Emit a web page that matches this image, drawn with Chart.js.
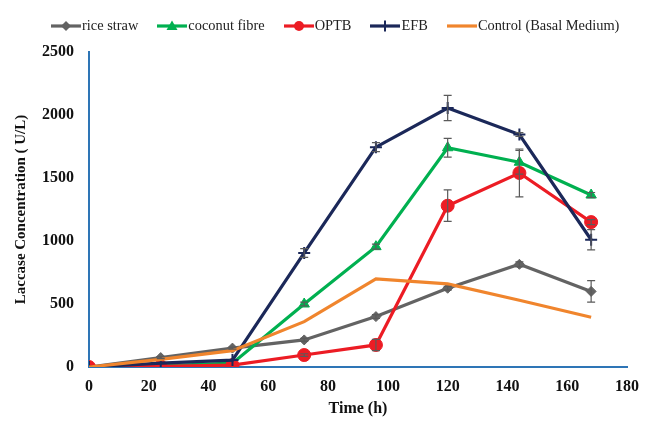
<!DOCTYPE html>
<html>
<head>
<meta charset="utf-8">
<script src="https://cdn.jsdelivr.net/npm/chart.js@4.4.1/dist/chart.umd.min.js"></script>
<style>
  body { margin: 0; background: #fff; }
  #wrap { position: relative; width: 649px; height: 422px; }
  #legend { position: absolute; left: 51px; top: 17px; display: flex; align-items: center;
            font-family: "Liberation Serif", "Times New Roman", serif; font-size: 14.4px; color: #222; }
  #legend .item { display: flex; align-items: center; margin-right: 19px; }
  #legend svg { margin-right: 1px; }
</style>
</head>
<body>
<div id="wrap">
  <canvas id="grafico" width="649" height="422"></canvas>
  <div id="legend"></div>
</div>
<script>
// dados
const hours = [0, 24, 48, 72, 96, 120, 144, 168];
const seriesNames = ['rice straw', 'coconut fibre', 'OPTB', 'EFB', 'Control (Basal Medium)'];

const riceStraw = [0, 75, 150, 215, 400, 625, 815, 600];
const riceStrawErr = [0, 8, 8, 12, 15, 15, 20, 85];
const coconutFibre = [0, 10, 30, 500, 955, 1740, 1625, 1365];
const coconutFibreErr = [0, 0, 0, 15, 20, 75, 95, 20];
const optb = [0, 5, 15, 95, 175, 1280, 1540, 1150];
const optbErr = [0, 0, 0, 10, 45, 125, 190, 20];
const efb = [0, 30, 55, 905, 1745, 2055, 1845, 1010];
const efbErr = [0, 0, 0, 35, 35, 100, 15, 80];
const control = [0, 60, 130, 360, 700, 660, 530, 395];

const xTicks = [0, 20, 40, 60, 80, 100, 120, 140, 160, 180];
const yTicks = [0, 500, 1000, 1500, 2000, 2500];

const cores = ['#636363', '#00b050', '#ec1c24', '#1b2859', '#f0852d'];
const estilos = ['rectRot', 'triangle', 'circle', 'cross', false];
const raios = [5, 6, 6.5, 6, 0];
const ordem = [4, 3, 2, 1, 0];
const valores = [riceStraw, coconutFibre, optb, efb, control];
const erros = [riceStrawErr, coconutFibreErr, optbErr, efbErr, null];

const serif = '"Liberation Serif", "Times New Roman", serif';

// barras de erro desenhadas com as escalas do gráfico
const errorBars = {
  id: 'errorBars',
  afterDatasetsDraw(chart) {
    const ctx = chart.ctx;
    const xs = chart.scales.x, ys = chart.scales.y;
    ctx.save();
    ctx.strokeStyle = '#5a5a5a';
    ctx.lineWidth = 1.2;
    chart.data.datasets.forEach(ds => {
      if (!ds.err) return;
      ds.data.forEach((p, i) => {
        const e = ds.err[i];
        if (!e) return;
        const px = xs.getPixelForValue(p.x);
        const y1 = ys.getPixelForValue(p.y + e);
        const y2 = ys.getPixelForValue(p.y - e);
        ctx.beginPath();
        ctx.moveTo(px, y1); ctx.lineTo(px, y2);
        ctx.moveTo(px - 4, y1); ctx.lineTo(px + 4, y1);
        ctx.moveTo(px - 4, y2); ctx.lineTo(px + 4, y2);
        ctx.stroke();
      });
    });
    ctx.restore();
  }
};

const datasets = seriesNames.map((nome, k) => ({
  label: nome,
  data: hours.map((h, i) => ({ x: h, y: valores[k][i] })),
  err: erros[k],
  borderColor: cores[k],
  backgroundColor: cores[k],
  borderWidth: 3.2,
  pointStyle: estilos[k],
  pointRadius: raios[k],
  pointBorderWidth: k === 3 ? 2 : 1,
  tension: 0,
  order: ordem[k]
}));

new Chart(document.getElementById('grafico').getContext('2d'), {
  type: 'line',
  data: { datasets: datasets },
  options: {
    responsive: false,
    animation: false,
    layout: { padding: { top: 52, right: 19, left: 0, bottom: 0 } },
    plugins: { legend: { display: false }, tooltip: { enabled: false } },
    scales: {
      x: {
        type: 'linear',
        min: 0,
        max: 180,
        afterBuildTicks: s => { s.ticks = xTicks.map(v => ({ value: v })); },
        afterFit: s => { s.height = 55; },
        grid: { display: false, drawTicks: false },
        border: { color: '#2e75b6', width: 2 },
        ticks: { padding: 10, color: '#111', callback: v => String(v),
                 font: { family: serif, size: 16, weight: 'bold' } },
        title: { display: true, text: 'Time (h)', color: '#111', padding: { top: 5 },
                 font: { family: serif, size: 16, weight: 'bold' } }
      },
      y: {
        min: 0,
        max: 2500,
        afterBuildTicks: s => { s.ticks = yTicks.map(v => ({ value: v })); },
        afterFit: s => { s.width = 89; },
        grid: { display: false, drawTicks: false },
        border: { color: '#2e75b6', width: 2 },
        ticks: { padding: 15, color: '#111', callback: v => String(v),
                 font: { family: serif, size: 16, weight: 'bold' } },
        title: { display: true, text: 'Laccase Concentration ( U/L)', color: '#111', padding: { top: 12 },
                 font: { family: serif, size: 15, weight: 'bold' } }
      }
    }
  },
  plugins: [errorBars]
});

// legenda em HTML
function amostra(k) {
  const c = cores[k];
  let m = '';
  if (estilos[k] === 'rectRot') m = `<polygon points="15,1 20,6 15,11 10,6" fill="${c}"/>`;
  if (estilos[k] === 'triangle') m = `<polygon points="15,0.5 20.5,10 9.5,10" fill="${c}"/>`;
  if (estilos[k] === 'circle') m = `<circle cx="15" cy="6" r="5" fill="${c}"/>`;
  if (estilos[k] === 'cross') m = `<path d="M15 0.5 V11.5" stroke="${c}" stroke-width="2"/>`;
  return `<svg width="30" height="12"><line x1="0" y1="6" x2="30" y2="6" stroke="${c}" stroke-width="3.2"/>${m}</svg>`;
}
const legend = document.getElementById('legend');
seriesNames.forEach((nome, k) => {
  const d = document.createElement('div');
  d.className = 'item';
  d.innerHTML = amostra(k) + '<span>' + nome + '</span>';
  legend.appendChild(d);
});
</script>
</body>
</html>
